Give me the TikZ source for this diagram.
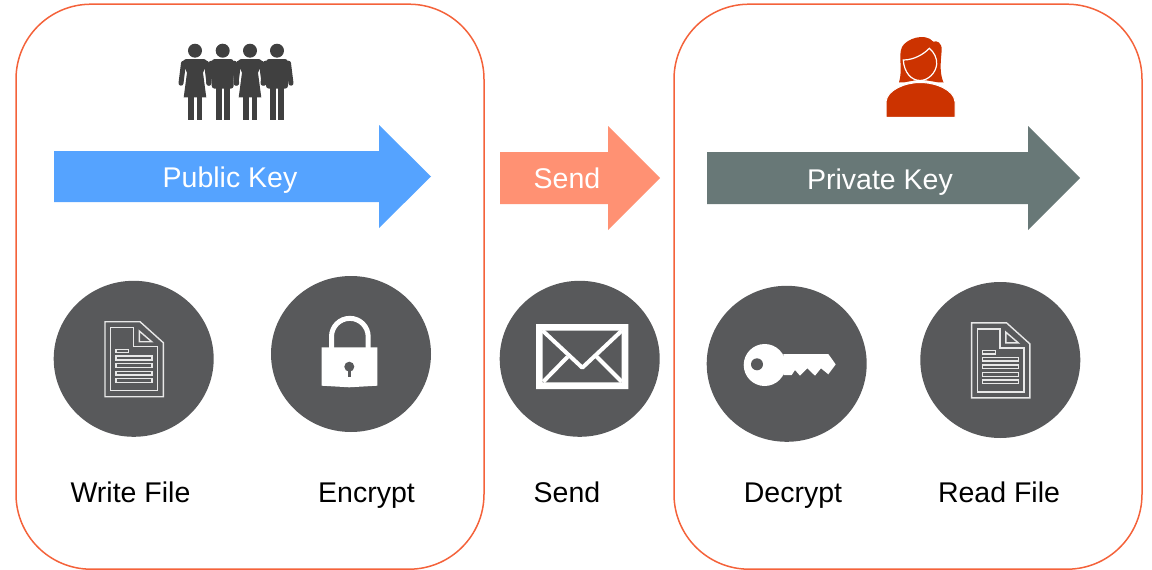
\documentclass[tikz,border=0pt]{standalone}
\usepackage{fontspec}
\setmainfont{Liberation Sans}
\usepackage{xcolor}
\usetikzlibrary{shapes.geometric}
\definecolor{frameorange}{HTML}{F4623A}
\definecolor{iconcircle}{HTML}{58595B}
\definecolor{iconline}{HTML}{E8E8E8}
\definecolor{peoplegrey}{HTML}{404040}
\definecolor{womanred}{HTML}{CC3300}
\definecolor{publicblue}{HTML}{55A3FF}
\definecolor{sendsalmon}{HTML}{FF9173}
\definecolor{privategrey}{HTML}{687877}
\tikzset{
  docicon/.pic={
    \draw[iconline,line width=1.4pt] (-28.7,-37.1) -- (6.3,-37.1) -- (29.6,-16.1) -- (29.6,37.9) -- (-28.7,37.9) -- cycle;
    \draw[iconline,line width=1.4pt] (-23,-31.1) -- (-0.4,-31.1) -- (-0.4,-12.1) -- (23.6,-12.1) -- (23.6,31.9) -- (-23,31.9) -- cycle;
    \draw[iconline,line width=1.4pt] (5.6,-27.8) -- (18,-17.1) -- (5.6,-17.1) -- cycle;
    \draw[iconline,line width=1.4pt] (-17.7,-9.5) rectangle (-5,-6.1);
    \foreach \y in {-2.8,4.9,12.5,19.9}
      \draw[iconline,line width=1.4pt] (-17.7,\y) rectangle (18.3,\y+3.8);
  },
  womanicon/.pic={
    \fill (0,0) circle (7);
    \fill (-9,8.3) -- (9,8.3) .. controls (11,8.3) and (12,10) .. (12,13) -- (8,22) -- (11.3,46.7) -- (-11.3,46.7) -- (-8,22) -- (-12,13) .. controls (-12,10) and (-11,8.3) .. (-9,8.3) -- cycle;
    \draw[line width=5pt,line cap=round] (-11.5,12.5) -- (-14,32.5);
    \draw[line width=5pt,line cap=round] (11.5,12.5) -- (14,32.5);
    \fill (-6.7,45) rectangle (-1,69.3);
    \fill (1.7,45) rectangle (7.3,69.3);
  },
  manicon/.pic={
    \fill (0,0) circle (7);
    \fill[rounded corners=3pt] (-11,8.3) rectangle (11,38);
    \draw[line width=5pt,line cap=round] (-11.5,12.5) -- (-14,32.5);
    \draw[line width=5pt,line cap=round] (11.5,12.5) -- (14,32.5);
    \fill (-7,36) rectangle (-1,69.3);
    \fill (1,36) rectangle (7,69.3);
  }
}
\begin{document}
\begin{tikzpicture}[x=1pt,y=-1pt,font=\fontsize{28.5}{30}\selectfont]
        \tikzstyle{keyframe}=[draw=frameorange,line width=1.5pt,rounded corners=75pt,minimum width=468pt,minimum height=565pt,inner sep=0pt]
        \tikzstyle{iconnode}=[ellipse,fill=iconcircle,minimum width=160pt,minimum height=156pt,inner sep=0pt]
        \tikzstyle{arrowtext}=[text=white,anchor=base,inner sep=0pt]
        \tikzstyle{steptext}=[text=black,anchor=base,inner sep=0pt]
        \useasboundingbox (0,0) rectangle (1152,570);
        % frames
        \node[keyframe] (publicframe) at (250,286.7) {};
        \node[keyframe] (privateframe) at (908,286.7) {};
        % arrows
        \fill[publicblue] (54,151) -- (379,151) -- (379,125) -- (431,176.5) -- (379,228) -- (379,202) -- (54,202) -- cycle;
        \fill[sendsalmon] (500,152) -- (608,152) -- (608,126) -- (660,178) -- (608,230) -- (608,204) -- (500,204) -- cycle;
        \fill[privategrey] (707,152) -- (1028,152) -- (1028,126) -- (1080,178) -- (1028,230) -- (1028,204) -- (707,204) -- cycle;
        \node[arrowtext] (publickey) at (230,187) {Public Key};
        \node[arrowtext] (sendkey) at (567,188) {Send};
        \node[arrowtext] (privatekey) at (880,189) {Private Key};
        % people
        \begin{scope}[peoplegrey]
          \pic at (195,50.7) {womanicon};
          \pic at (222.7,50.7) {manicon};
          \pic at (250,50.7) {womanicon};
          \pic at (277,50.7) {manicon};
        \end{scope}
        % woman
        \fill[womanred] (899,82.5) .. controls (903,70) and (898,55) .. (902,47) .. controls (906,39) and (925,32) .. (933.3,41.7) .. controls (937,40) and (942,43) .. (941.7,50) .. controls (941,60) and (939,72) .. (943.5,82.5) .. controls (936,83) and (930,80) .. (920,80) .. controls (912,80) and (906,83) .. (899,82.5) -- cycle;
        \draw[white,line width=1.2pt] (903.3,60) .. controls (914,60) and (924,54) .. (929.3,48.3) .. controls (934,52) and (937,58) .. (936.7,64) .. controls (936,73) and (928,80.5) .. (920,80.5) .. controls (911,80.5) and (904,72) .. (903.3,60) -- cycle;
        \fill[womanred,draw=white,line width=1pt] (886,117.3) -- (886,101.7) .. controls (887,90) and (905,82.5) .. (920,82.5) .. controls (936,82.5) and (954,90) .. (955,101.7) -- (955,117.3) -- cycle;
        % circles with icons
        \node[iconnode] (writefile) at (133.7,358.8) {};
        \node[iconnode] (encrypt) at (351,354) {};
        \node[iconnode] (sendmail) at (579.7,358.8) {};
        \node[iconnode] (decrypt) at (786.7,363.8) {};
        \node[iconnode] (readfile) at (1000.3,360) {};
        \pic at (writefile) {docicon};
        \pic at (readfile) {docicon};
        \begin{scope}[shift={(encrypt)}]
          \fill[white] (-29.3,-6.7) -- (26.3,-6.7) -- (26.3,31.7) -- (-1.7,33.3) -- (-29.3,31.7) -- cycle;
          \draw[white,line width=5pt] (-19.5,-5) -- (-19.5,-17.3) arc[start angle=180,end angle=360,radius=18.35] -- (17.2,-5);
          \fill[iconcircle] (-1.7,12.7) circle (5);
          \fill[iconcircle] (-3.4,13) rectangle (0,23.3);
        \end{scope}
        \begin{scope}[shift={(sendmail)}]
          \fill[white,even odd rule] (-43.7,-34.8) rectangle (48.6,30.2) (-37,-28.1) rectangle (42,23.5);
          \draw[white,line width=4pt,line join=round] (-37,-28.1) -- (2.6,8.9) -- (42,-28.1);
          \draw[white,line width=4pt] (-12,-2.1) -- (-36.4,22.9);
          \draw[white,line width=4pt] (17,-2.1) -- (42,22.9);
        \end{scope}
        \begin{scope}[shift={(decrypt)}]
          \fill[white] (-22,1.2) circle (21);
          \fill[white] (-3.4,-9.8) -- (41.6,-9.8) -- (49,0.6) -- (41.6,10.5) -- (34.3,4.5) -- (28.3,11.9) -- (20.6,4.5) -- (13.3,11.9) -- (8.3,6.2) -- (5,11.2) -- (-3.4,11.2) -- cycle;
          \fill[iconcircle] (-29.7,0.5) circle (6);
        \end{scope}
        % labels
        \node[steptext] (writelabel) at (130.5,502) {Write File};
        \node[steptext] (encryptlabel) at (366.5,502) {Encrypt};
        \node[steptext] (sendlabel) at (567,502) {Send};
        \node[steptext] (decryptlabel) at (793,502) {Decrypt};
        \node[steptext] (readlabel) at (999,502) {Read File};
      \end{tikzpicture}
\end{document}
